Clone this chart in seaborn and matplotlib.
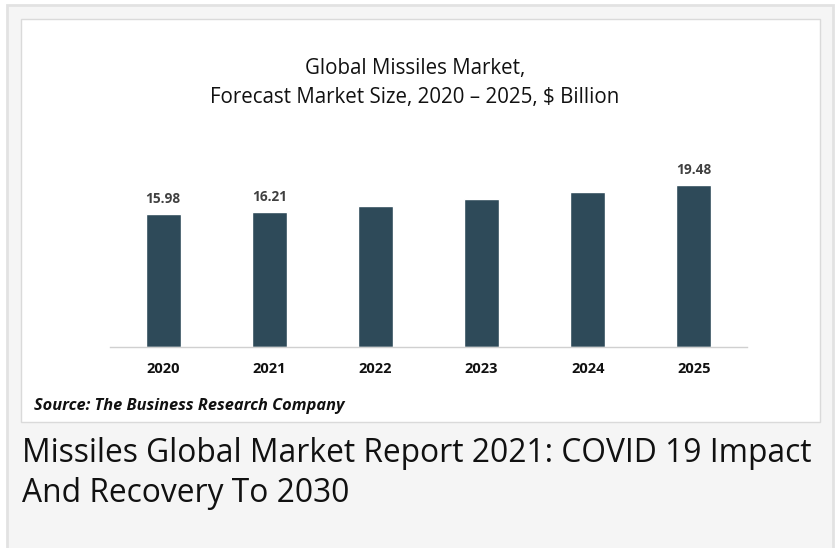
import matplotlib
matplotlib.use("Agg")
import matplotlib.pyplot as plt
import seaborn as sns
import pandas as pd
from matplotlib.patches import Rectangle

years = ["2020", "2021", "2022", "2023", "2024", "2025"]
values = [15.98, 16.21, 16.95, 17.80, 18.64, 19.48]
shown_labels = ["15.98", "16.21", "", "", "", "19.48"]
title = "Global Missiles Market,\nForecast Market Size, 2020 – 2025, $ Billion"
source = "Source: The Business Research Company"
caption = "Missiles Global Market Report 2021: COVID 19 Impact\nAnd Recovery To 2030"

sns.set_style("white")
plt.rcParams["font.family"] = ["Open Sans", "DejaVu Sans"]

W, H = 836, 548
fig = plt.figure(figsize=(W / 100, H / 100), dpi=100)
fig.patch.set_facecolor("white")

def px_rect(x0, y0, x1, y1, z, **kw):
    r = Rectangle((x0 / W, 1 - y1 / H), (x1 - x0) / W, (y1 - y0) / H,
                  transform=fig.transFigure, zorder=z, **kw)
    fig.add_artist(r)
    return r

# outer panel
px_rect(7, 5, 833, 560, -3, facecolor="#f5f5f5", edgecolor="#e2e2e2", linewidth=2)
# inner white chart box
px_rect(21, 19, 820, 422, -2, facecolor="white", edgecolor="#dadada", linewidth=1)

ax = fig.add_axes([110 / W, 1 - 347 / H, (747 - 110) / W, (347 - 140) / H])
ax.set_facecolor("none")
df = pd.DataFrame({"year": years, "value": values})
sns.barplot(data=df, x="year", y="value", color="#2e4a59", saturation=1,
            width=0.33, ax=ax)
ax.set_xlim(-0.5, 5.5)
ax.set_ylim(0, 24.9)
ax.set_xlabel("")
ax.set_ylabel("")
ax.set_yticks([])
for s in ["top", "right", "left"]:
    ax.spines[s].set_visible(False)
ax.spines["bottom"].set_color("#d0d0d0")
ax.spines["bottom"].set_linewidth(1)
ax.tick_params(axis="x", length=0, pad=11)
for lab in ax.get_xticklabels():
    lab.set_fontweight("bold")
    lab.set_fontsize(10.5)
    lab.set_color("#111111")
ax.bar_label(ax.containers[0], labels=shown_labels, padding=6,
             fontsize=9.8, fontweight="bold", color="#404040")

fig.text(415 / W, 1 - 83 / H, title, ha="center", va="center",
         fontsize=14.8, color="#111111", linespacing=1.47)
fig.text(34 / W, 1 - 406 / H, source, ha="left", va="center",
         fontsize=11.8, fontweight="bold", fontstyle="italic", color="#111111")
fig.text(22 / W, 1 - 473 / H, caption, ha="left", va="center",
         fontsize=22.9, color="#111111", linespacing=1.28)

fig.savefig("out.png", dpi=100)
